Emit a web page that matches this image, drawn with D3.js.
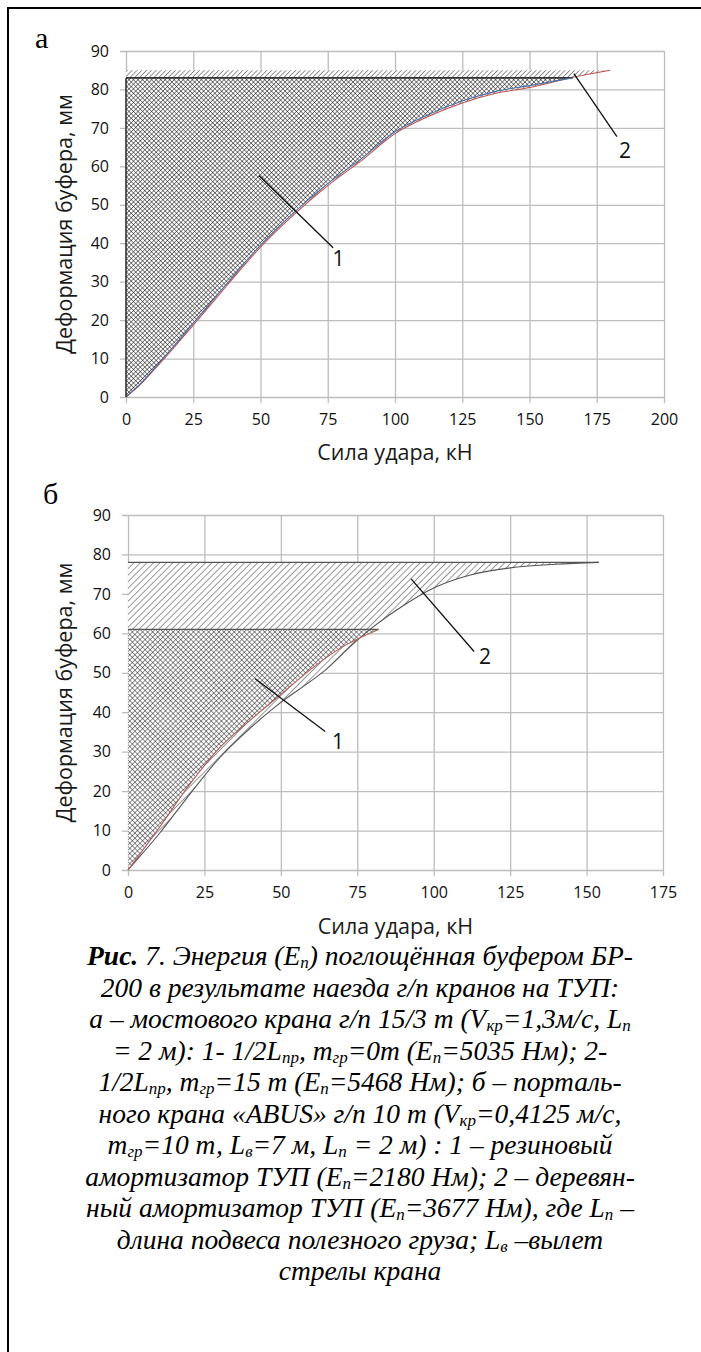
<!DOCTYPE html>
<html>
<head>
<meta charset="utf-8">
<style>
body { margin: 0; background: #fff; }
svg { display: block; }
.axis .domain { display: none; }
.axis line { stroke: #bdbdbd; stroke-width: 1.3; }
.axis text { font: 16px "Open Sans", sans-serif; fill: #111; }
.axis-title { font: 21.5px "Open Sans", sans-serif; fill: #1a1a1a; }
.panel-letter { font: 30px "Liberation Serif", serif; fill: #000; }
.callout { font: 21px "Open Sans", sans-serif; fill: #111; }
.caption { font: italic 27.5px "Liberation Serif", serif; fill: #000; }
</style>
</head>
<body>
<svg width="701" height="1352"></svg>
<script src="https://d3js.org/d3.v7.min.js"></script>
<script>

// ---------- data ----------
var yTicks = [0, 10, 20, 30, 40, 50, 60, 70, 80, 90];
var xTicksA = [0, 25, 50, 75, 100, 125, 150, 175, 200];
var xTicksB = [0, 25, 50, 75, 100, 125, 150, 175];

// chart a (1 - m=0 t, 2 - m=15 t)
var forceA1  = [0, 5, 12.5, 25, 37.5, 50, 62.5, 75, 87.5, 100, 112.5, 125, 137.5, 150, 166];
var deformA1 = [0, 3.2, 9, 19.2, 29.5, 39.5, 48, 55.5, 62, 69, 73.5, 77, 79.5, 81, 83];
var forceA2  = [0, 5, 12.5, 25, 37.5, 50, 62.5, 75, 87.5, 100, 112.5, 125, 137.5, 150, 165, 180];
var deformA2 = [0, 3, 8.7, 18.7, 29, 39, 47.5, 55, 61.5, 68.5, 73, 76.5, 79, 80.5, 83, 85];

// chart b (1 - rubber, 2 - wood)
var forceB1  = [0, 10, 20, 30, 40, 50, 60, 70, 82];
var deformB1 = [0, 10.5, 21.5, 31, 38, 44.5, 51, 56.5, 61];
var forceB2  = [0, 10, 20, 30, 40, 50, 60, 65, 72.5, 80, 90, 100, 112, 125, 140, 154];
var deformB2 = [0, 9, 19, 28.5, 36, 42.5, 48, 51, 56.5, 61.5, 67, 71.5, 74.8, 76.6, 77.5, 78];

var xTitle = "Сила удара, кН";
var yTitle = "Деформация буфера, мм";

// callouts: [label, fromX, fromY, toX, toY, labelX, labelY] in data units
var calloutsA = [["1", 49.4, 57.6, 77, 38.8, 79, 36], ["2", 166.5, 84.1, 182.5, 67.7, 185.5, 64]];
var calloutsB = [["1", 41.6, 48.5, 64.5, 35.1, 68.7, 32.5], ["2", 92.6, 73.8, 113.2, 55.4, 116.8, 54]];

var captionLines = [
  [["Рис.", "b"], [" 7. Энергия (E"], ["п", "s"], [")  поглощённая буфером БР-"]],
  [["200 в результате наезда г/п кранов на ТУП:"]],
  [["а – мостового крана г/п 15/3 т (V"], ["кр", "s"], ["=1,3м/с, L"], ["п", "s"]],
  [["= 2 м): 1- 1/2L"], ["пр", "s"], [", m"], ["гр", "s"], ["=0т  (E"], ["п", "s"], ["=5035 Нм); 2-"]],
  [["1/2L"], ["пр", "s"], [", m"], ["гр", "s"], ["=15 т (E"], ["п", "s"], ["=5468  Нм); б – порталь-"]],
  [["ного крана «ABUS» г/п 10 т (V"], ["кр", "s"], ["=0,4125 м/с,"]],
  [["m"], ["гр", "s"], ["=10 т, L"], ["в", "s"], ["=7 м, L"], ["п", "s"], [" = 2 м) : 1 – резиновый"]],
  [["амортизатор ТУП (E"], ["п", "s"], ["=2180 Нм); 2 – деревян-"]],
  [["ный амортизатор ТУП (E"], ["п", "s"], ["=3677 Нм), где L"], ["п", "s"], [" –"]],
  [["длина подвеса полезного груза; L"], ["в", "s"], [" –вылет"]],
  [["стрелы крана"]]
];

// ---------- drawing ----------
var svg = d3.select("svg");

// frame (top and left edge of the table cell)
svg.append("path").attr("d", "M8,1352V8H701").attr("fill", "none")
  .attr("stroke", "#000").attr("stroke-width", 2);

var defs = svg.append("defs");
function hatch(id, size, cross, color, width) {
  var p = defs.append("pattern").attr("id", id)
    .attr("patternUnits", "userSpaceOnUse")
    .attr("width", size).attr("height", size)
    .attr("patternTransform", "rotate(45)");
  p.append("rect").attr("width", size).attr("height", size).attr("fill", "#fff");
  p.append("line").attr("x1", 0).attr("y1", 0).attr("x2", 0).attr("y2", size)
    .attr("stroke", color).attr("stroke-width", width);
  if (cross) p.append("line").attr("x1", 0).attr("y1", 0).attr("x2", size).attr("y2", 0)
    .attr("stroke", color).attr("stroke-width", width);
}
hatch("crossA", 3.2, true, "#111", 1);
hatch("diagA", 3.4, false, "#222", 1);
hatch("crossB", 3.6, true, "#222", 1);
hatch("diagB", 4.6, false, "#333", 1);

function zip(xs, ys) { return xs.map(function(v, i) { return [v, ys[i]]; }); }

function drawChart(o) {
  var x = d3.scaleLinear().domain([0, o.xMax]).range([o.left, o.right]);
  var y = d3.scaleLinear().domain([0, 90]).range([o.bottom, o.top]);
  var g = svg.append("g");

  g.append("g").attr("class", "axis")
    .attr("transform", "translate(" + o.right + ",0)")
    .call(d3.axisLeft(y).tickValues(yTicks).tickSize(o.right - o.left + 6).tickPadding(11));
  g.append("g").attr("class", "axis")
    .attr("transform", "translate(0," + o.top + ")")
    .call(d3.axisBottom(x).tickValues(o.xTicks).tickSize(o.bottom - o.top + 6).tickPadding(11));

  var line = d3.line().x(function(d) { return x(d[0]); }).y(function(d) { return y(d[1]); })
    .curve(d3.curveMonotoneX);

  // hatched areas: outer (series 2) first, then series 1
  o.areas.forEach(function(a) {
    var pts = zip(a.f, a.d);
    var last = pts[pts.length - 1];
    g.append("path")
      .attr("d", line(pts) + "L" + x(0) + "," + y(last[1]) + "Z")
      .attr("fill", "url(#" + a.fill + ")");
  });
  o.areas.forEach(function(a) {
    var pts = zip(a.f, a.d);
    var last = pts[pts.length - 1];
    g.append("line").attr("x1", x(0)).attr("x2", x(last[0]))
      .attr("y1", y(last[1])).attr("y2", y(last[1]))
      .attr("stroke", a.topColor).attr("stroke-width", a.topWidth);
    g.append("path").attr("d", line(pts)).attr("fill", "none")
      .attr("stroke", a.color).attr("stroke-width", 1.1);
  });
  if (o.leftEdge) {
    g.append("line").attr("x1", x(0)).attr("x2", x(0))
      .attr("y1", y(0)).attr("y2", y(o.leftEdge))
      .attr("stroke", "#333").attr("stroke-width", 1.6);
  }

  o.callouts.forEach(function(c) {
    g.append("line").attr("x1", x(c[1])).attr("y1", y(c[2]))
      .attr("x2", x(c[3])).attr("y2", y(c[4]))
      .attr("stroke", "#111").attr("stroke-width", 1.3);
    g.append("text").attr("class", "callout")
      .attr("x", x(c[5])).attr("y", y(c[6])).attr("text-anchor", "middle")
      .attr("dy", "0.35em").text(c[0]);
  });

  g.append("text").attr("class", "axis-title").attr("text-anchor", "middle")
    .attr("x", (o.left + o.right) / 2).attr("y", o.xTitleY).text(xTitle);
  g.append("text").attr("class", "axis-title").attr("text-anchor", "middle")
    .attr("transform", "translate(" + o.yTitleX + "," + (o.top + o.bottom) / 2 + ") rotate(-90)")
    .attr("dy", "0.35em")
    .text(yTitle);
  g.append("text").attr("class", "panel-letter")
    .attr("x", o.letterX).attr("y", o.letterY).text(o.letter);
}

drawChart({
  letter: "а", letterX: 35, letterY: 48,
  left: 126, right: 664, top: 51, bottom: 397, xMax: 200, xTicks: xTicksA,
  xTitleY: 460, yTitleX: 64, leftEdge: 83,
  areas: [
    { f: forceA2, d: deformA2, fill: "diagA", color: "#c0504d", topColor: "none", topWidth: 0 },
    { f: forceA1, d: deformA1, fill: "crossA", color: "#4a6fa5", topColor: "#333", topWidth: 1.6 }
  ],
  callouts: calloutsA
});

drawChart({
  letter: "б", letterX: 43, letterY: 504,
  left: 128, right: 663, top: 515, bottom: 870, xMax: 175, xTicks: xTicksB,
  xTitleY: 934, yTitleX: 64, leftEdge: 0,
  areas: [
    { f: forceB2, d: deformB2, fill: "diagB", color: "#555", topColor: "#555", topWidth: 1.2 },
    { f: forceB1, d: deformB1, fill: "crossB", color: "#b06060", topColor: "#555", topWidth: 1.2 }
  ],
  callouts: calloutsB
});

// caption
var cap = svg.append("g").attr("class", "caption");
captionLines.forEach(function(parts, i) {
  var t = cap.append("text")
    .attr("x", 360).attr("y", 965 + i * 31.5)
    .attr("text-anchor", "middle");
  parts.forEach(function(p) {
    var s = t.append("tspan").text(p[0]);
    if (p[1] === "b") s.attr("font-weight", "bold");
    if (p[1] === "s") {
      s.attr("font-size", "17px").attr("dy", 3);
    }
  });
  // undo the subscript shifts after each sub
  t.selectAll("tspan").each(function(d, j, nodes) {
    var prev = nodes[j - 1];
    if (prev && prev.getAttribute("dy") === "3" && this.getAttribute("dy") !== "3")
      this.setAttribute("dy", -3);
  });
});

</script>
</body>
</html>
